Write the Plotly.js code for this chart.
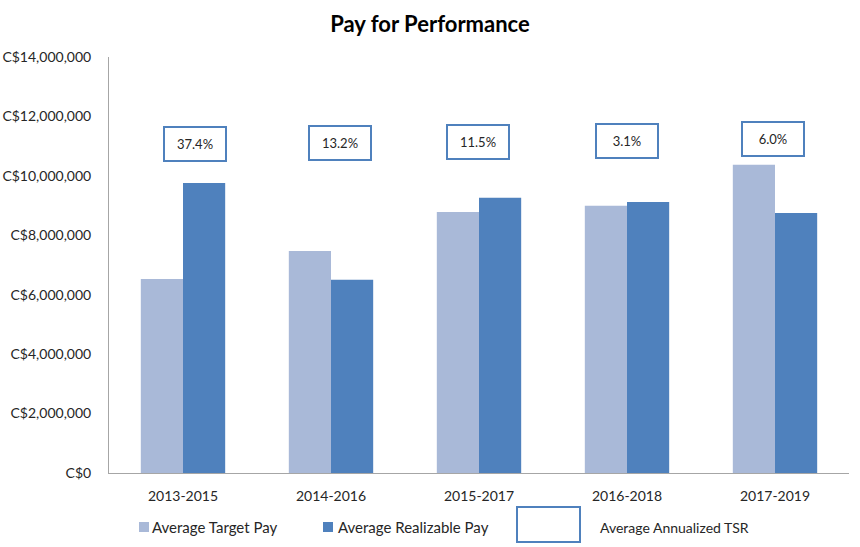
<!DOCTYPE html>
<html>
<head>
<meta charset="utf-8">
<script src="https://cdn.plot.ly/plotly-3.0.1.min.js"></script>
<style>html,body{margin:0;padding:0;background:#fff;}#chart{width:860px;height:547px;}</style>
</head>
<body>
<div id="chart"></div>
<script>
// ---- data ----
const periods = ["2013-2015", "2014-2016", "2015-2017", "2016-2018", "2017-2019"];
const targetPay = [6530000, 7470000, 8780000, 8990000, 10370000];
const realizablePay = [9760000, 6500000, 9260000, 9120000, 8750000];
const tsr = ["37.4%", "13.2%", "11.5%", "3.1%", "6.0%"];
const seriesNames = ["Average Target Pay", "Average Realizable Pay", "Average Annualized TSR"];

// ---- style / layout config ----
const W = 860, H = 547;
const M = {l: 109, r: 11, t: 57, b: 74};
const PW = W - M.l - M.r, PH = H - M.t - M.b;
const colTarget = "#a9b9d8", colReal = "#4f81bd", boxCol = "#4f81bd";
const FONT = "Lato, 'Liberation Sans', Arial, sans-serif";
const txt = "#262626";
const boxShiftX = [12, 9, -1, 0, -2];
const boxY = [11.07e6, 11.11e6, 11.14e6, 11.17e6, 11.24e6];
const px2x = p => (p - M.l) / PW;
const py2y = p => (H - M.b - p) / PH;

const traces = [
  {type: "bar", name: seriesNames[0], x: periods, y: targetPay, marker: {color: colTarget}, showlegend: false, hoverinfo: "x+y+name"},
  {type: "bar", name: seriesNames[1], x: periods, y: realizablePay, marker: {color: colReal}, showlegend: false, hoverinfo: "x+y+name"}
];

const annotations = tsr.map((t, i) => ({
  xref: "x", yref: "y", x: periods[i], y: boxY[i], xshift: boxShiftX[i],
  text: t, showarrow: false, font: {family: FONT, size: 13, color: txt},
  width: 58, height: 30, borderpad: 1, bordercolor: boxCol, borderwidth: 2,
  bgcolor: "#ffffff", xanchor: "center", yanchor: "middle"
}));

// legend (manual)
annotations.push(
  {xref: "paper", yref: "paper", x: px2x(150), y: py2y(527), xanchor: "left", yanchor: "middle",
   text: seriesNames[0], showarrow: false, font: {family: FONT, size: 15, color: txt}},
  {xref: "paper", yref: "paper", x: px2x(336), y: py2y(527), xanchor: "left", yanchor: "middle",
   text: seriesNames[1], showarrow: false, font: {family: FONT, size: 15, color: txt}},
  {xref: "paper", yref: "paper", x: px2x(598), y: py2y(527), xanchor: "left", yanchor: "middle",
   text: seriesNames[2], showarrow: false, font: {family: FONT, size: 14, color: txt}}
);

const shapes = [
  {type: "rect", xref: "paper", yref: "paper", x0: px2x(139), x1: px2x(149), y0: py2y(532), y1: py2y(522),
   fillcolor: colTarget, line: {width: 0}},
  {type: "rect", xref: "paper", yref: "paper", x0: px2x(323), x1: px2x(333), y0: py2y(532), y1: py2y(522),
   fillcolor: colReal, line: {width: 0}},
  {type: "rect", xref: "paper", yref: "paper", x0: px2x(517), x1: px2x(580), y0: py2y(542), y1: py2y(507),
   fillcolor: "#ffffff", line: {color: boxCol, width: 2}}
];

const layout = {
  width: W, height: H,
  margin: M,
  paper_bgcolor: "#ffffff", plot_bgcolor: "#ffffff",
  font: {family: FONT, color: txt},
  title: {text: "Pay for Performance", x: 0.5, xref: "container", xanchor: "center",
          y: 1 - 24 / H, yref: "container", yanchor: "middle",
          font: {family: FONT, size: 22, color: "#000", weight: "bold"}},
  barmode: "group", bargap: 0.43, bargroupgap: 0,
  showlegend: false,
  xaxis: {type: "category", showline: true, linecolor: "#a6a6a6", linewidth: 1, ticks: "",
          showgrid: false, zeroline: false, tickfont: {family: FONT, size: 14, color: txt},
          ticklabelstandoff: 10, fixedrange: true},
  yaxis: {range: [0, 14e6], dtick: 2e6, tick0: 0, tickprefix: "C$", tickformat: ",d",
          showline: true, linecolor: "#a6a6a6", linewidth: 1, ticks: "", showgrid: false,
          zeroline: false, tickfont: {family: FONT, size: 14, color: txt},
          ticklabelstandoff: 14, fixedrange: true},
  annotations: annotations,
  shapes: shapes
};

Plotly.newPlot("chart", traces, layout, {displayModeBar: false, staticPlot: true});
</script>
</body>
</html>
